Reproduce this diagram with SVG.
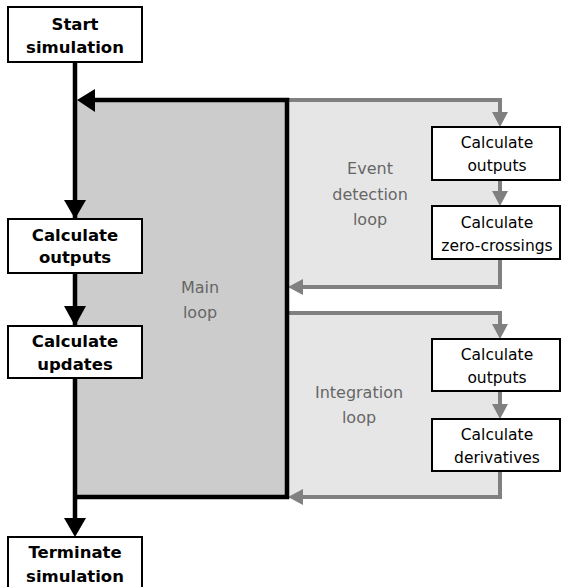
<svg xmlns="http://www.w3.org/2000/svg" width="561" height="587" viewBox="0 0 561 587">
<style>
.box{fill:#fff;stroke:#000;stroke-width:2}
.bt{font-family:"DejaVu Sans",sans-serif;font-weight:bold;font-size:16.5px;fill:#000;text-anchor:middle}
.rt{font-family:"DejaVu Sans",sans-serif;font-size:15.5px;fill:#000;text-anchor:middle}
.lt{font-family:"DejaVu Sans",sans-serif;font-size:16px;fill:#666;text-anchor:middle}
.blk{fill:none;stroke:#000;stroke-width:4.5}
.gry{fill:none;stroke:#808080;stroke-width:4}
.gh{fill:#808080}
</style>
<rect width="561" height="587" fill="#fff"/>
<g id="loops">
<rect id="main-loop" x="75" y="100" width="212" height="397" fill="#cccccc"/>
<rect id="event-area" x="287" y="100" width="213" height="187" fill="#e6e6e6"/>
<rect id="integration-area" x="287" y="313" width="213" height="184" fill="#e6e6e6"/>
<text class="lt" x="200" y="293">Main</text>
<text class="lt" x="200" y="318">loop</text>
<text class="lt" x="370" y="174">Event</text>
<text class="lt" x="370" y="200">detection</text>
<text class="lt" x="370" y="225">loop</text>
<text class="lt" x="359" y="398">Integration</text>
<text class="lt" x="359" y="423">loop</text>
</g>
<g id="connectors">
<path class="gry" d="M287 100 H500 V114"/>
<polygon class="gh" points="492,112 508,112 500,127"/>
<path class="gry" d="M500 180 V193"/>
<polygon class="gh" points="492,191 508,191 500,206"/>
<path class="gry" d="M500 259 V287 H300"/>
<polygon class="gh" points="303,279 303,295 288,287"/>
<path class="gry" d="M287 313 H500 V326"/>
<polygon class="gh" points="492,324 508,324 500,339"/>
<path class="gry" d="M500 391 V406"/>
<polygon class="gh" points="492,404 508,404 500,419"/>
<path class="gry" d="M500 471 V497 H300"/>
<polygon class="gh" points="303,489 303,505 288,497"/>
<path class="blk" d="M75 62 V520"/>
<path class="blk" d="M90 100 H287 V497 H75"/>
<polygon points="77,100 95,89 95,112" fill="#000"/>
<polygon points="64,200 86,200 75,219" fill="#000"/>
<polygon points="64,306 86,306 75,326" fill="#000"/>
<polygon points="64,518 86,518 75,537" fill="#000"/>
</g>
<g id="start">
<rect class="box" x="8" y="7" width="134" height="55"/>
<text class="bt" x="75" y="30">Start</text>
<text class="bt" x="75" y="53">simulation</text>
</g>
<g id="calc-outputs">
<rect class="box" x="8" y="219" width="134" height="54"/>
<text class="bt" x="75" y="241">Calculate</text>
<text class="bt" x="75" y="263">outputs</text>
</g>
<g id="calc-updates">
<rect class="box" x="8" y="326" width="134" height="52"/>
<text class="bt" x="75" y="347">Calculate</text>
<text class="bt" x="75" y="370">updates</text>
</g>
<g id="terminate">
<rect class="box" x="8" y="537" width="134" height="56"/>
<text class="bt" x="75" y="558">Terminate</text>
<text class="bt" x="75" y="582">simulation</text>
</g>
<g id="ev-outputs">
<rect class="box" x="432" y="127" width="128" height="53"/>
<text class="rt" x="497" y="148">Calculate</text>
<text class="rt" x="497" y="171">outputs</text>
</g>
<g id="ev-zero">
<rect class="box" x="432" y="206" width="128" height="53"/>
<text class="rt" x="497" y="228">Calculate</text>
<text class="rt" x="497" y="251">zero-crossings</text>
</g>
<g id="int-outputs">
<rect class="box" x="432" y="339" width="128" height="52"/>
<text class="rt" x="497" y="360">Calculate</text>
<text class="rt" x="497" y="383">outputs</text>
</g>
<g id="int-deriv">
<rect class="box" x="432" y="419" width="128" height="52"/>
<text class="rt" x="497" y="440">Calculate</text>
<text class="rt" x="497" y="463">derivatives</text>
</g>
</svg>
